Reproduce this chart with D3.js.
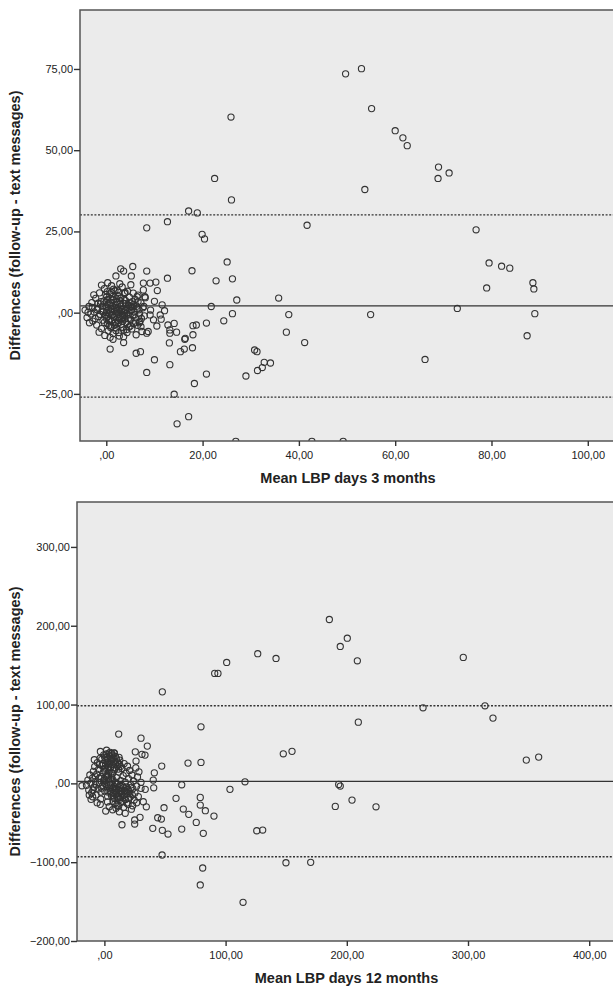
<!DOCTYPE html>
<html>
<head>
<meta charset="utf-8">
<script src="https://cdn.jsdelivr.net/npm/d3@7"></script>
<style>
  body { margin: 0; background: #fff; }
  svg { display: block; }
</style>
</head>
<body>
<div id="graph-container"></div>
<script>
/*
 * data: [mean, difference]
 */
const points3m = [
  [49.7,73.5],[53.0,75.1],[55.1,62.8],[60.0,56.0],[61.6,53.8],[62.5,51.4],[69.0,44.8],[71.2,43.0],
  [68.9,41.3],[53.7,37.9],[41.7,26.9],[76.8,25.5],[79.5,15.3],[82.1,14.3],[83.8,13.7],[79.0,7.6],
  [88.6,9.2],[88.8,7.3],[35.8,4.5],[37.9,-0.6],[54.9,-0.6],[72.9,1.3],[89.0,-0.3],[37.4,-6.0],
  [41.2,-9.2],[87.4,-7.1],[66.2,-14.4],[42.7,-39.6],[49.2,-39.6],[25.9,60.2],
  [30.8,-11.5],[31.3,-12.0],[32.8,-15.3],[34.1,-15.5],[32.4,-16.9],[31.4,-17.8],
  [22.5,41.3],[26.0,34.7],[17.1,31.3],[18.9,30.7],[12.7,28.0],[8.4,26.1],[19.9,24.1],[20.4,22.7],
  [25.1,15.6],[17.8,12.9],[8.4,12.8],[5.5,14.2],[3.0,13.5],[3.6,12.8],[2.0,11.3],[5.2,11.3],
  [12.7,10.6],[22.8,9.8],[26.2,10.4],
  [27.1,3.9],[21.8,1.9],[26.2,-0.3],[24.4,-2.5],[20.8,-3.2],[18.7,-3.8],[18.0,-4.0],[14.1,-3.3],
  [12.8,-3.8],[14.6,-6.0],[13.2,-6.3],[18.0,-6.8],[16.4,-7.9],[13.1,-9.3],[17.9,-10.8],[16.2,-11.2],
  [15.4,-12.0],[13.2,-16.0],[10.0,-14.5],[8.4,-18.4],[4.0,-15.5],[6.2,-12.5],[7.1,-12.0],[3.6,-9.2],
  [0.8,-11.2],[1.4,-8.2],[8.4,-6.3],[10.5,-4.1],[11.4,-2.0],[12.1,0.6],[11.6,2.4],[20.8,-18.9],
  [18.3,-21.8],[14.1,-25.1],[17.1,-32.0],[14.7,-34.2],[26.9,-39.6],[29.0,-19.5],
  [7.7,9.1],[9.1,9.1],[10.3,9.4],[10.6,6.8],[7.7,7.0],[6.4,4.9],[8.0,4.9],[9.2,0.8],[9.1,-0.7],
  [11.2,-0.7],[13.2,-5.3],[8.7,-5.8],[7.2,-4.3],[16.3,-8.2],[7.8,1.9],[6.9,-3.1],[9.8,-2.2],[10.0,3.5],
  // dense group near the origin
  [-4.4,0.8],[-4.0,-1.5],[-3.6,1.9],[-3.2,-0.4],[-3.0,3.1],[-2.8,-2.6],[-2.5,0.2],[-2.2,4.4],
  [-2.0,-3.8],[-1.8,1.4],[-1.6,-1.2],[-1.4,6.1],[-1.2,2.7],[-1.0,-4.9],[-0.9,0.5],[-0.7,-2.3],
  [-0.5,3.6],[-0.4,7.4],[-0.2,-0.8],[0.0,0.0],[0.0,1.8],[0.0,-1.7],[0.1,4.9],[0.2,-3.4],
  [0.3,2.4],[0.4,-5.6],[0.5,0.9],[0.6,-0.3],[0.7,5.7],[0.8,-2.0],[0.9,3.0],[1.0,-4.2],
  [1.0,1.2],[1.1,8.3],[1.2,-0.9],[1.3,2.1],[1.4,-6.4],[1.5,4.0],[1.6,-1.4],[1.7,0.4],
  [1.8,6.8],[1.9,-2.9],[2.0,1.6],[2.1,-4.7],[2.2,3.3],[2.3,-0.1],[2.4,5.2],[2.5,-2.4],
  [2.6,0.8],[2.7,-7.2],[2.8,2.6],[2.9,-1.1],[3.0,4.5],[3.1,-3.6],[3.2,1.0],[3.3,7.9],
  [3.4,-0.5],[3.5,2.9],[3.6,-5.3],[3.7,0.2],[3.8,5.9],[3.9,-1.9],[4.0,3.7],[4.1,-3.0],
  [4.2,1.4],[4.3,-6.1],[4.4,6.6],[4.5,-0.7],[4.6,2.3],[4.7,-4.4],[4.8,4.8],[4.9,0.6],
  [5.0,-2.2],[5.1,8.6],[5.2,1.9],[5.3,-5.0],[5.4,3.4],[5.5,-0.9],[5.6,6.0],[5.7,-3.3],
  [5.8,0.3],[6.0,4.1],[6.1,-1.6],[6.2,-6.8],[6.3,2.0],[6.5,-3.9],[6.6,5.4],[6.8,0.9],
  [7.0,-2.7],[7.2,3.0],[7.4,-5.8],[7.6,1.5],[7.9,-1.0],[8.1,4.6],[-1.5,-6.0],[-0.3,-7.0],
  [0.8,-7.6],[-2.6,5.5],[-3.5,-3.1],[1.5,7.2],[2.8,8.9],[0.3,9.2],[-1.0,8.5],[3.6,-7.4],
  [1.2,3.9],[2.2,0.5],[0.6,-3.9],[3.2,-2.0],[4.0,0.9],[-0.8,2.0],[1.8,-3.2],[2.6,6.3],[0.2,6.5],
  [0.1,0.6],[0.4,-1.1],[0.9,0.2],[1.3,-0.6],[1.6,1.0],[2.0,-0.3],[2.4,1.2],[2.7,-1.6],
  [3.1,0.4],[3.5,-1.3],[3.9,0.7],[4.3,-0.2],[-0.6,0.4],[-1.3,-0.5],[-1.9,0.9],[0.6,2.9],
  [1.1,-2.6],[1.9,2.4],[2.5,-3.3],[3.0,2.1],[3.4,-2.7],[4.0,2.8],[4.6,-1.8],[5.2,0.7],
  [5.9,-0.6],[6.4,1.1],[-0.4,-3.0],[-1.1,3.4],[0.3,4.1],[1.4,5.0],[2.1,4.3],[3.7,4.0],
  [4.9,3.0],[5.5,1.8],[6.1,-2.9],[0.9,-4.6],[2.0,-5.5],[3.3,-4.5],[4.4,-3.6],[-2.3,-1.8],
  [-2.9,1.6],[-3.8,0.1],[-1.7,2.9],[0.0,3.3],[0.5,-2.4],[1.7,-3.9],[2.9,3.7],[3.8,-0.9],
  [4.7,1.5],[5.7,2.6],[6.9,-0.4],[7.3,-1.8],[6.6,3.4],[1.0,6.2],[2.3,6.9],[-0.1,5.6],
  [3.9,6.2],[4.2,-5.2],[5.0,-4.1],[2.6,-6.1]
]

const points12m = [
  [185.6,207.9],[200.4,184.2],[194.6,173.7],[208.7,155.5],[141.6,158.5],[296.1,159.8],[262.9,95.9],
  [314.0,98.4],[320.6,82.8],[209.5,77.7],[147.6,37.5],[154.8,40.6],[348.1,29.5],[358.3,33.3],
  [193.3,-1.3],[194.6,-3.4],[204.3,-21.2],[190.5,-29.2],[224.1,-29.7],[149.8,-100.7],[170.2,-100.2],
  [126.5,164.5],[100.9,153.4],[91.0,139.5],[93.7,139.5],[47.8,116.1],[79.7,71.8],[11.8,62.5],
  [30.2,57.4],[35.4,47.3],[25.5,40.0],[31.0,36.8],[33.5,35.9],[8.2,38.8],[6.8,35.9],
  [69.0,25.7],[79.7,26.6],[47.3,21.9],[41.2,13.4],[26.1,28.3],[116.0,2.0],[103.6,-7.6],[63.8,-1.8],
  [40.7,-5.6],[59.1,-19.0],[79.1,-17.8],[79.1,-27.5],[65.1,-32.6],[83.3,-34.7],[69.6,-39.3],
  [90.4,-41.5],[49.2,-30.9],[75.8,-49.5],[34.6,-29.7],[32.1,-23.3],[44.0,-43.6],[47.0,-45.3],
  [29.4,-43.1],[25.0,-46.5],[25.0,-51.6],[14.5,-52.5],[39.9,-57.1],[47.8,-59.6],[52.5,-64.3],
  [63.8,-58.0],[81.6,-63.4],[125.7,-60.1],[130.6,-59.2],[47.6,-90.9],[81.1,-107.4],[79.1,-128.9],
  [114.4,-150.9],[1.1,-35.1],[-3.4,-26.6],[9.6,-31.7],[12.3,-36.0],[17.2,-38.0],[23.3,-28.4],
  [26.6,-24.6],[33.7,-7.6],[30.2,-6.3],[30.2,1.3],[40.3,4.2],[-18.5,-3.0],[-9.7,-17.0],
  [-12.5,-14.8],[28.5,14.7],
  // dense group near the origin
  [-14.8,-2.5],[-13.6,4.1],[-12.9,-8.3],[-12.0,10.6],[-11.2,0.4],[-10.5,-11.9],[-9.8,6.7],[-9.1,15.2],
  [-8.6,-4.9],[-8.0,21.3],[-7.4,2.2],[-6.9,-14.6],[-6.3,11.8],[-5.8,26.4],[-5.2,-7.1],[-4.7,17.9],
  [-4.1,0.9],[-3.6,31.7],[-3.0,-19.8],[-2.5,8.5],[-2.0,22.6],[-1.5,-3.3],[-1.0,13.7],[-0.5,36.2],
  [0.0,0.0],[0.0,4.8],[0.3,-9.6],[0.7,19.4],[1.1,28.9],[1.5,-1.4],[1.9,10.2],[2.3,33.5],
  [2.7,-16.2],[3.1,24.7],[3.5,5.6],[3.9,15.8],[4.3,-6.0],[4.7,39.4],[5.1,20.1],[5.5,-12.5],
  [5.9,30.6],[6.3,2.9],[6.7,12.4],[7.1,-22.8],[7.5,26.0],[7.9,-3.9],[8.3,17.2],[8.7,-8.6],
  [9.1,34.1],[9.5,-14.0],[9.9,7.3],[10.3,-27.4],[10.7,22.0],[11.1,-1.0],[11.5,-18.5],[11.9,14.3],
  [12.3,-5.7],[12.7,29.5],[13.1,-11.0],[13.5,3.6],[13.9,-24.1],[14.3,18.9],[14.7,-2.8],[15.1,-15.7],
  [15.5,9.8],[15.9,-30.2],[16.3,25.1],[16.7,-8.9],[17.1,1.7],[17.5,-20.6],[17.9,12.9],[18.3,-4.4],
  [18.7,-13.2],[19.1,21.8],[19.5,-26.5],[19.9,6.1],[20.3,-9.9],[20.8,16.4],[21.3,-17.4],[21.8,-1.9],
  [22.3,-32.8],[22.8,10.7],[23.4,-6.7],[24.0,3.0],[24.6,-21.1],[25.2,-12.1],[25.9,19.6],[26.6,-3.5],
  [27.3,8.2],[28.0,-16.8],[-6.0,-24.5],[-3.3,40.5],[1.8,42.1],[4.0,-29.6],[8.0,38.2],[-11.0,-20.3],
  [6.8,-33.5],[12.1,33.0],[-8.3,30.0],[2.6,-23.5],[0.5,14.6],[3.0,-10.9],[6.0,8.0],[9.4,1.2],
  [-2.8,-11.0],[5.0,-1.8],[10.0,-7.4],[14.0,-13.5],[7.3,-17.0],[12.8,-20.0],
  [-2.2,30.4],[-1.1,25.3],[0.2,33.0],[0.9,22.8],[1.6,37.3],[2.2,27.0],[2.9,31.8],[3.4,20.8],
  [4.1,35.0],[4.8,25.9],[5.3,29.2],[6.0,37.9],[6.6,23.5],[7.2,32.2],[7.8,19.7],[8.5,28.1],
  [9.3,24.4],[10.1,31.0],[10.9,26.9],[11.6,18.1],[12.5,24.0],[13.3,21.4],[-4.0,23.9],[-0.3,18.3],
  [3.8,38.4],[4.6,-10.3],[5.8,-15.5],[6.5,-7.2],[7.7,-12.2],[8.4,-19.1],[9.0,-4.8],[9.8,-10.9],
  [10.6,-16.0],[11.3,-7.9],[12.0,-12.8],[12.9,-2.4],[13.6,-17.9],[14.4,-9.4],[15.2,-22.7],[16.0,-5.2],
  [16.8,-14.3],[17.6,-10.6],[18.4,-24.9],[19.3,-7.7],[20.1,-18.9],[21.0,-12.9],[22.0,-5.1],[23.1,-14.9],
  [8.8,-25.6],[11.8,-28.8],[-6.7,-1.8],[-4.4,6.3],[-2.2,-6.0],[-0.8,3.4],[1.3,8.6],[2.0,-4.2],
  [3.3,11.1],[4.5,0.6],[-9.4,-8.4],[-7.7,9.2],[5.7,14.0],[7.0,4.5]
]

// mean difference, upper and lower limits of agreement
const limits3m = [2.1, 30.1, -26.0]
const limits12m = [2.5, 98.4, -93.1]

const xTicks3m = [0, 20, 40, 60, 80, 100]
const yTicks3m = [-25, 0, 25, 50, 75]
const xTicks12m = [0, 100, 200, 300, 400]
const yTicks12m = [-200, -100, 0, 100, 200, 300]

const xTitle3m = 'Mean LBP days 3 months'
const xTitle12m = 'Mean LBP days 12 months'
const yTitle = 'Differences (follow-up - text messages)'

/*
 * SPSS style number labels: ",00" / "25,00" / "-25,00"
 */
const spss = v => {
  const s = d3.format('.2f')(v).replace('.', ',')
  return s.replace(/^(-?)0,/, '$1,')
}

/*
 * Initialize SVG
 */
const w = 613
const h = 987
const svg = d3.select('#graph-container')
  .append('svg')
  .attr('width', w)
  .attr('height', h)
  .style('font-family', '"Liberation Sans", Arial, sans-serif')

function drawPanel(opts) {
  const { id, left, right, top, bottom, xDomain, yDomain, xTicks, yTicks, points, limits, xTitle } = opts

  const x = d3.scaleLinear().domain(xDomain).range([left, right])
  const y = d3.scaleLinear().domain(yDomain).range([bottom, top])

  const g = svg.append('g').attr('id', id)

  svg.append('clipPath')
    .attr('id', id + '-clip')
    .append('rect')
    .attr('x', left)
    .attr('y', top)
    .attr('width', right - left)
    .attr('height', bottom - top)

  g.append('rect')
    .attr('x', left)
    .attr('y', top)
    .attr('width', right - left)
    .attr('height', bottom - top)
    .style('fill', '#ebebeb')

  const inner = g.append('g').attr('clip-path', `url(#${id}-clip)`)

  // mean line and limits
  inner.selectAll('line.limit')
    .data(limits)
    .enter()
    .append('line')
    .attr('class', 'limit')
    .attr('x1', left)
    .attr('x2', right)
    .attr('y1', d => y(d))
    .attr('y2', d => y(d))
    .style('stroke', '#333')
    .style('stroke-width', (d, i) => i == 0 ? 1.3 : 1.4)
    .style('stroke-dasharray', (d, i) => i == 0 ? null : '2,1.6')

  inner.selectAll('circle')
    .data(points)
    .enter()
    .append('circle')
    .attr('cx', d => x(d[0]))
    .attr('cy', d => y(d[1]))
    .attr('r', 3.1)
    .style('fill', 'none')
    .style('stroke', '#333')
    .style('stroke-width', 1.1)

  // frame
  g.append('rect')
    .attr('x', left)
    .attr('y', top)
    .attr('width', right - left)
    .attr('height', bottom - top)
    .style('fill', 'none')
    .style('stroke', '#555')
    .style('stroke-width', 1.5)

  const xAxis = g.append('g')
    .attr('transform', `translate(0,${bottom})`)
    .call(d3.axisBottom(x).tickValues(xTicks).tickFormat(spss).tickSize(5).tickPadding(5))
  const yAxis = g.append('g')
    .attr('transform', `translate(${left},0)`)
    .call(d3.axisLeft(y).tickValues(yTicks).tickFormat(spss).tickSize(6).tickPadding(1))

  ;[xAxis, yAxis].forEach(a => {
    a.select('.domain').remove()
    a.selectAll('line').style('stroke', '#333').style('stroke-width', 1.4)
    a.selectAll('text')
      .style('font-size', '11px')
      .style('fill', '#222')
      .style('font-family', '"Liberation Sans", Arial, sans-serif')
  })

  g.append('text')
    .attr('x', (left + right) / 2)
    .attr('y', bottom + 42)
    .attr('text-anchor', 'middle')
    .style('font-size', '14.5px')
    .style('font-weight', 'bold')
    .style('fill', '#222')
    .text(xTitle)

  g.append('text')
    .attr('transform', `translate(20,${(top + bottom) / 2}) rotate(-90)`)
    .attr('text-anchor', 'middle')
    .style('font-size', '14.5px')
    .style('font-weight', 'bold')
    .style('fill', '#222')
    .text(yTitle)
}

drawPanel({
  id: 'p3m',
  left: 80, right: 616, top: 10, bottom: 441,
  xDomain: [-5.46, 105.86],
  yDomain: [-39.5, 93.15],
  xTicks: xTicks3m,
  yTicks: yTicks3m,
  points: points3m,
  limits: limits3m,
  xTitle: xTitle3m
})

drawPanel({
  id: 'p12m',
  left: 77, right: 616, top: 502, bottom: 941,
  xDomain: [-22.6, 422.1],
  yDomain: [-200, 357],
  xTicks: xTicks12m,
  yTicks: yTicks12m,
  points: points12m,
  limits: limits12m,
  xTitle: xTitle12m
})
</script>
</body>
</html>
